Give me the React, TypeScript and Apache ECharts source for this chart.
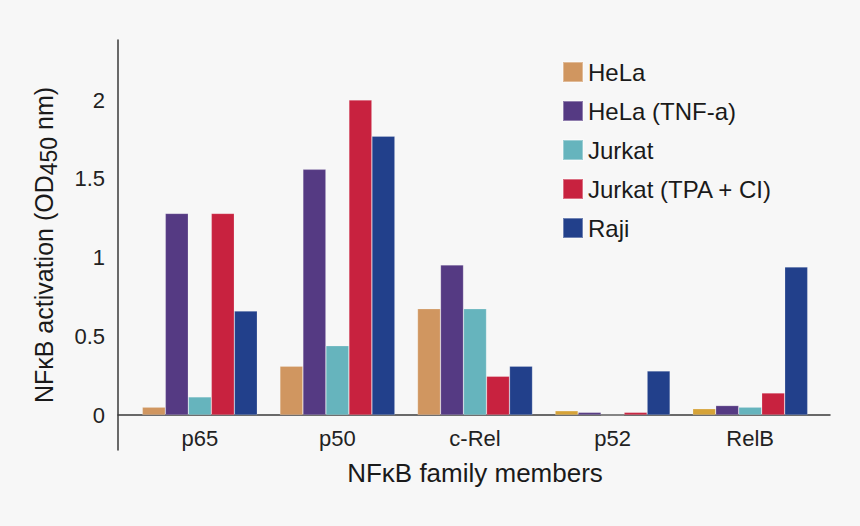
import { useEffect, useRef } from 'react'
import * as echarts from 'echarts'

const categories = ['p65', 'p50', 'c-Rel', 'p52', 'RelB']
const seriesNames = ['HeLa', 'HeLa (TNF-a)', 'Jurkat', 'Jurkat (TPA + CI)', 'Raji']
const colors = ['#d09660', '#553a83', '#66b4bd', '#c8223f', '#22408b']
// the small HeLa bars for p52 and RelB are drawn in a golder tone
const helaLowColor = '#d6a338'
const helaLowIdx = [3, 4]

const helaValues = [0.05, 0.31, 0.675, 0.027, 0.04]
const helaTnfValues = [1.28, 1.56, 0.953, 0.017, 0.06]
const jurkatValues = [0.115, 0.44, 0.675, 0, 0.05]
const jurkatTpaValues = [1.28, 2.0, 0.246, 0.017, 0.14]
const rajiValues = [0.66, 1.77, 0.31, 0.28, 0.94]
const yTicks = [0, 0.5, 1, 1.5, 2]

const Y_MIN = -0.222
const Y_MAX = 2.381
const FONT = '"Liberation Sans", Arial, Helvetica, sans-serif'
const AXIS_COLOR = '#3a3a3a'

export default function App() {
  const chartRef = useRef<HTMLDivElement>(null)

  useEffect(() => {
    if (!chartRef.current) return
    const chart = echarts.init(chartRef.current, undefined, { renderer: 'svg' })

    const allValues = [helaValues, helaTnfValues, jurkatValues, jurkatTpaValues, rajiValues]

    const series = allValues.map((vals, s) => ({
      name: seriesNames[s],
      type: 'bar',
      xAxisIndex: 0,
      yAxisIndex: 0,
      barWidth: 23,
      barGap: '0%',
      itemStyle: { color: colors[s], borderColor: 'rgba(255,255,255,0.35)', borderWidth: 0.6 },
      data: vals.map((v, i) =>
        s === 0 && helaLowIdx.includes(i) ? { value: v, itemStyle: { color: helaLowColor } } : v
      ),
    }))

    chart.setOption({
      animation: false,
      backgroundColor: '#f7f7f7',
      textStyle: { fontFamily: FONT },
      legend: {
        orient: 'vertical',
        left: 562,
        top: 60,
        padding: 0,
        icon: 'rect',
        itemWidth: 20,
        itemHeight: 20,
        itemGap: 15,
        data: seriesNames,
        textStyle: { fontSize: 24, lineHeight: 24, color: '#1a1a1a', fontFamily: FONT },
      },
      grid: [
        // bars: bottom edge sits on the zero line
        { left: 131, right: 41, top: 40, bottom: 111 },
        // frame: axis lines run a bit past the bar area
        { left: 118, right: 30, top: 40, bottom: 76 },
      ],
      xAxis: [
        {
          type: 'category',
          gridIndex: 0,
          data: categories,
          axisLine: { show: false },
          axisTick: { show: false },
          axisLabel: { margin: 12, fontSize: 22, color: '#222', fontFamily: FONT },
          name: 'NFκB family members',
          nameLocation: 'middle',
          nameGap: 45,
          nameTextStyle: { fontSize: 26, color: '#1a1a1a', fontFamily: FONT },
        },
        {
          type: 'value',
          gridIndex: 1,
          min: 0,
          max: 1,
          axisLine: { show: true, onZero: true, lineStyle: { color: AXIS_COLOR, width: 1.5 } },
          axisTick: { show: false },
          axisLabel: { show: false },
          splitLine: { show: false },
        },
      ],
      yAxis: [
        { type: 'value', gridIndex: 0, min: 0, max: Y_MAX, show: false },
        {
          type: 'value',
          gridIndex: 1,
          min: Y_MIN,
          max: Y_MAX,
          axisLine: { show: true, lineStyle: { color: AXIS_COLOR, width: 1.5 } },
          axisTick: { show: false },
          splitLine: { show: false },
          axisLabel: {
            customValues: yTicks,
            margin: 13,
            fontSize: 22,
            color: '#222',
            fontFamily: FONT,
            formatter: (v: number) => String(v),
          },
          name: '{t|NFκB activation (OD}{sub|450}{t| nm)}',
          nameLocation: 'middle',
          nameGap: 58,
          nameTextStyle: {
            rich: {
              t: { fontSize: 25, color: '#1a1a1a', fontFamily: FONT },
              sub: { fontSize: 23, color: '#1a1a1a', fontFamily: FONT, verticalAlign: 'bottom', padding: [10, 0, 0, 0] },
            },
          },
        },
      ],
      series,
    })

    return () => chart.dispose()
  }, [])

  return (
    <div
      ref={chartRef}
      style={{ position: 'fixed', left: 0, top: 0, width: 860, height: 526, background: '#f7f7f7' }}
    />
  )
}
